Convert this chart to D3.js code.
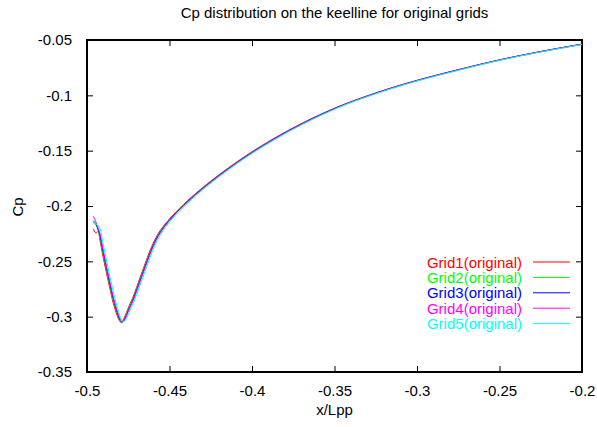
<!DOCTYPE html>
<html>
<head>
<meta charset="utf-8">
<script src="https://cdn.jsdelivr.net/npm/d3@7"></script>
<style>
  body { margin: 0; background: #fff; }
  svg text { font-family: "Liberation Sans", Arial, sans-serif; font-size: 15px; }
</style>
</head>
<body>
<div id="chart"></div>
<script>
// x/Lpp positions shared by all grids
var xs = [-0.4962, -0.4946, -0.4933, -0.4921, -0.4903, -0.4881, -0.4861, -0.4841, -0.4824, -0.4809, -0.4797, -0.4788, -0.4776, -0.4761, -0.4742, -0.4719, -0.4679, -0.4638, -0.46, -0.4558, -0.4497, -0.4416, -0.4315, -0.4164, -0.4012, -0.3861, -0.3709, -0.3558, -0.3406, -0.3182, -0.30, -0.2752, -0.2497, -0.2249, -0.20];

// Cp along the keel line, one list per grid
var grid1 = [-0.2205, -0.2245, -0.2232, -0.2310, -0.2456, -0.2612, -0.2748, -0.2877, -0.2960, -0.3021, -0.3048, -0.3042, -0.3015, -0.2963, -0.2894, -0.2815, -0.2650, -0.2481, -0.2339, -0.2225, -0.2111, -0.1987, -0.1853, -0.1678, -0.1521, -0.1384, -0.1261, -0.1154, -0.1060, -0.0945, -0.0864, -0.0768, -0.0678, -0.0603, -0.0537];
var grid2 = [-0.2126, -0.2163, -0.2221, -0.2283, -0.2424, -0.2582, -0.2720, -0.2850, -0.2938, -0.3006, -0.3050, -0.3056, -0.3035, -0.2977, -0.2909, -0.2831, -0.2667, -0.2498, -0.2354, -0.2235, -0.2118, -0.1993, -0.1858, -0.1683, -0.1525, -0.1388, -0.1264, -0.1157, -0.1062, -0.0947, -0.0866, -0.0770, -0.0679, -0.0605, -0.0538];
var grid3 = [-0.2142, -0.2165, -0.2210, -0.2268, -0.2407, -0.2565, -0.2703, -0.2835, -0.2926, -0.2996, -0.3037, -0.3049, -0.3034, -0.2986, -0.2918, -0.2840, -0.2677, -0.2508, -0.2362, -0.2241, -0.2122, -0.1997, -0.1861, -0.1685, -0.1528, -0.1390, -0.1266, -0.1158, -0.1064, -0.0948, -0.0867, -0.0771, -0.0680, -0.0605, -0.0538];
var grid4 = [-0.2090, -0.2145, -0.2199, -0.2253, -0.2389, -0.2548, -0.2687, -0.2820, -0.2913, -0.2985, -0.3030, -0.3048, -0.3039, -0.2994, -0.2926, -0.2849, -0.2687, -0.2518, -0.2370, -0.2247, -0.2126, -0.2000, -0.1864, -0.1688, -0.1530, -0.1392, -0.1268, -0.1160, -0.1065, -0.0949, -0.0868, -0.0772, -0.0681, -0.0606, -0.0539];
var grid5 = [-0.2150, -0.2160, -0.2180, -0.2207, -0.2336, -0.2497, -0.2638, -0.2774, -0.2875, -0.2954, -0.3008, -0.3035, -0.3044, -0.3018, -0.2951, -0.2876, -0.2717, -0.2547, -0.2395, -0.2264, -0.2138, -0.2011, -0.1873, -0.1696, -0.1537, -0.1399, -0.1274, -0.1165, -0.1069, -0.0953, -0.0871, -0.0775, -0.0683, -0.0608, -0.0541];

var names = ["Grid1(original)", "Grid2(original)", "Grid3(original)", "Grid4(original)", "Grid5(original)"];
var colors = ["#ff0000", "#00ff00", "#0000ff", "#ff00ff", "#00ffff"];
var xTicks = [-0.5, -0.45, -0.4, -0.35, -0.3, -0.25, -0.2];
var yTicks = [-0.35, -0.3, -0.25, -0.2, -0.15, -0.1, -0.05];

var W = 597, H = 427;
var margin = {top: 40, right: 15, bottom: 55, left: 87};
var width = W - margin.left - margin.right,
    height = H - margin.top - margin.bottom;

var svg = d3.select("#chart").append("svg")
    .attr("width", W)
    .attr("height", H);

var g = svg.append("g")
    .attr("transform", "translate(" + margin.left + "," + margin.top + ")");

var x = d3.scaleLinear().domain([-0.5, -0.2]).range([0, width]);
var y = d3.scaleLinear().domain([-0.35, -0.05]).range([height, 0]);

// gnuplot style labels with a plain hyphen
var fmt = function(d) { return String(+d.toFixed(2)); };

// axes, ticks pointing inward, mirrored on top/right
var tk = 6;
g.append("g").attr("class", "axis")
    .attr("transform", "translate(0," + height + ")")
    .call(d3.axisBottom(x).tickValues(xTicks).tickSizeInner(-tk).tickSizeOuter(0).tickPadding(13).tickFormat(fmt));
g.append("g").attr("class", "axis")
    .call(d3.axisTop(x).tickValues(xTicks).tickSizeInner(-tk).tickSizeOuter(0).tickFormat(""));
g.append("g").attr("class", "axis")
    .call(d3.axisLeft(y).tickValues(yTicks).tickSizeInner(-tk).tickSizeOuter(0).tickPadding(15).tickFormat(fmt));
g.append("g").attr("class", "axis")
    .attr("transform", "translate(" + width + ",0)")
    .call(d3.axisRight(y).tickValues(yTicks).tickSizeInner(-tk).tickSizeOuter(0).tickFormat(""));

g.selectAll(".axis .domain").remove();
g.selectAll(".axis line").attr("stroke", "#000").attr("stroke-width", 1);
g.selectAll(".axis text")
    .attr("fill", "#000")
    .style("font-family", "'Liberation Sans', Arial, sans-serif")
    .style("font-size", "15px");

g.append("rect")
    .attr("width", width)
    .attr("height", height)
    .attr("fill", "none")
    .attr("stroke", "#000")
    .attr("stroke-width", 2);

// curves
var series = [grid1, grid2, grid3, grid4, grid5];
var line = d3.line()
    .x(function(d, i) { return x(xs[i]); })
    .y(function(d) { return y(d); })
    .curve(d3.curveCatmullRom.alpha(0.5));

series.forEach(function(s, k) {
  g.append("path")
      .attr("d", line(s))
      .attr("fill", "none")
      .attr("stroke", colors[k])
      .attr("stroke-width", 1);
});

// legend
var leg = g.append("g").attr("transform", "translate(" + (width - 10) + "," + 222 + ")");
names.forEach(function(n, k) {
  var row = leg.append("g").attr("transform", "translate(0," + (k * 15.4) + ")");
  row.append("line")
      .attr("x1", -39).attr("x2", -2)
      .attr("y1", 0).attr("y2", 0)
      .attr("stroke", colors[k]).attr("stroke-width", 1);
  row.append("text")
      .attr("x", -50).attr("y", 5.5)
      .attr("text-anchor", "end")
      .attr("fill", colors[k])
      .text(n);
});

// titles
svg.append("text")
    .attr("x", margin.left + width / 2)
    .attr("y", 18)
    .attr("text-anchor", "middle")
    .text("Cp distribution on the keelline for original grids");

svg.append("text")
    .attr("x", margin.left + width / 2)
    .attr("y", 415)
    .attr("text-anchor", "middle")
    .text("x/Lpp");

svg.append("text")
    .attr("transform", "translate(23,207) rotate(-90)")
    .attr("text-anchor", "middle")
    .text("Cp");
</script>
</body>
</html>
